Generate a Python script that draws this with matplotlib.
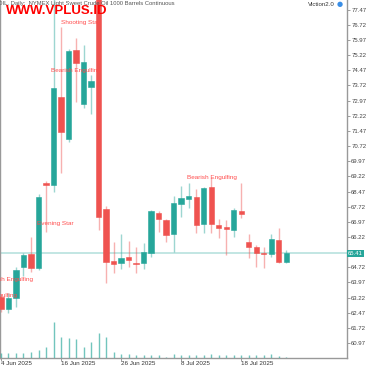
import numpy as np
import matplotlib.pyplot as plt
from matplotlib.transforms import blended_transform_factory

# daily OHLC, 4 Jun 2025 .. 28 Jul 2025 (trading days)
opens = [63.25, 62.65, 63.20, 64.73, 65.38, 64.68, 68.89, 68.79, 73.15, 71.07,
         75.47, 72.80, 73.64, 78.35, 67.60, 65.03, 64.93, 65.23, 64.95, 64.93,
         65.43, 67.41, 67.06, 66.37, 67.85, 68.10, 68.20, 66.86, 68.69, 66.81,
         66.71, 66.56, 67.50, 65.97, 65.72, 65.43, 65.38, 66.07, 64.98]
highs = [63.40, 63.45, 64.73, 65.43, 66.22, 68.35, 68.99, 78.35, 76.61, 75.52,
         76.07, 75.72, 74.24, 78.45, 67.75, 65.97, 66.37, 66.02, 65.72, 65.92,
         67.55, 67.50, 67.11, 68.25, 68.74, 68.89, 68.59, 68.69, 69.14, 67.11,
         67.06, 67.65, 68.89, 66.37, 65.82, 65.72, 66.37, 66.66, 65.57]
lows = [62.50, 62.45, 62.75, 64.29, 64.48, 64.58, 66.46, 68.45, 69.39, 70.92,
        72.90, 72.60, 72.31, 66.56, 63.94, 64.44, 64.63, 64.73, 64.44, 64.63,
        65.23, 66.46, 65.97, 65.47, 67.21, 67.65, 66.42, 66.42, 66.42, 66.17,
        65.33, 66.22, 67.16, 65.18, 64.73, 64.68, 65.23, 64.95, 64.95]
closes = [62.65, 63.21, 64.58, 65.33, 64.68, 68.20, 68.79, 73.59, 71.42, 75.43,
          74.83, 74.88, 73.94, 67.21, 64.98, 64.86, 65.18, 65.08, 64.91, 65.47,
          67.50, 67.11, 66.32, 67.90, 68.15, 68.25, 66.81, 68.64, 66.86, 66.66,
          66.61, 67.55, 67.36, 65.72, 65.43, 65.38, 66.12, 64.98, 65.41]
volumes = [15, 15, 15, 15, 17, 25, 33, 107, 63, 60, 57, 33, 47, 75, 63, 18, 13,
           12, 10, 9, 10, 9, 4, 12, 9, 9, 9, 9, 12, 10, 10, 9, 9, 9, 9, 9, 11, 6, 2]
date_ticks = [0, 8, 16, 24, 32]
date_labels = ["4 Jun 2025", "16 Jun 2025", "26 Jun 2025", "8 Jul 2025", "18 Jul 2025"]
price_ticks = [77.47, 76.72, 75.97, 75.22, 74.47, 73.72, 72.97, 72.22, 71.47, 70.72,
               69.97, 69.22, 68.47, 67.72, 66.97, 66.22, 64.72, 63.97, 63.22,
               62.47, 61.72, 60.97]
last_price = 65.41

# pattern labels: (text, bar index, price)
patterns = [("Shooting Star", 10.6, 76.86),
            ("Bearish Engulfing", 10.05, 74.44),
            ("Evening Star", 7.2, 66.91),
            ("Bullish Engulfing", 1.1, 64.14),
            ("Bullish Engulfing", -1.0, 63.30),
            ("Bearish Engulfing", 28.1, 69.14)]

UP = '#26a69a'
DOWN = '#ef5350'
FONT = 'Liberation Sans'

fig = plt.figure(figsize=(3.75, 3.66), dpi=100)
ax = fig.add_axes([0.0, 8 / 366, 347 / 375, 358 / 366])

x = np.arange(len(opens))
o = np.array(opens)
c = np.array(closes)
col = np.where(c >= o, UP, DOWN)

# volumes on twin axis at the bottom
axv = ax.twinx()
axv.vlines(x, 0, volumes, color=UP, lw=1.0, alpha=0.65)
axv.set_ylim(0, 1074)
axv.axis('off')

ax.vlines(x, lows, highs, color=col, lw=1.0, alpha=0.45, zorder=2)
h = c - o
h = np.where(np.abs(h) < 0.06, np.where(h >= 0, 0.06, -0.06), h)
ax.bar(x, h, bottom=o, width=0.67, color=col, edgecolor=col, lw=0.4, zorder=3)

ax.axhline(last_price, color=UP, alpha=0.3, lw=1.3, zorder=1)

ax.set_xlim(-0.133, 46.13)
ax.set_ylim(60.23, 77.95)

for txt, xi, yp in patterns:
    ax.text(xi, yp, txt, color='#ff4d4d', fontsize=4.6, family=FONT,
            ha='center', va='center', zorder=5)

ax.yaxis.tick_right()
ax.set_yticks(price_ticks)
ax.set_yticklabels([f"{p:.2f}" for p in price_ticks])
ax.tick_params(axis='y', length=2, width=0.5, color='#777', labelsize=4.3,
               labelcolor='#444', pad=1)
ax.set_xticks(date_ticks)
ax.set_xticklabels(date_labels, ha='left')
ax.tick_params(axis='x', length=2, width=0.5, color='#777', labelsize=4.5,
               labelcolor='#333', pad=0.5)
for lab in ax.get_xticklabels() + ax.get_yticklabels():
    lab.set_family(FONT)

for s in ['left', 'right', 'bottom']:
    ax.spines[s].set_color('#999')
    ax.spines[s].set_linewidth(1.0)
ax.spines['top'].set_visible(False)

tr = blended_transform_factory(ax.transAxes, ax.transData)
ax.text(1.003, last_price, f"{last_price:.2f}", transform=tr, fontsize=4.3,
        family=FONT, color='white', va='center', ha='left', zorder=6,
        bbox=dict(boxstyle='square,pad=0.2', fc=UP, ec='none'))

fig.text(-2 / 375, 1 - 3 / 366, "OIL, Daily:  NYMEX Light Sweet Crude Oil 1000 Barrels Continuous",
         fontsize=4.2, family=FONT, color='#555', va='center', ha='left')
fig.text(6 / 375, 1 - 11 / 366, "WWW.VPLUS.ID", fontsize=9.5, family=FONT,
         weight='bold', color='#ff0000', va='center', ha='left')
fig.text(335 / 375, 1 - 4 / 366, "Viction2.0", fontsize=4.4, family=FONT,
         color='#333', va='center', ha='right')
fig.text(337 / 375, 1 - 4 / 366, "\u25cf", fontsize=5, color='#3a8ee6',
         va='center', ha='left')

fig.savefig('out.png', dpi=100)
